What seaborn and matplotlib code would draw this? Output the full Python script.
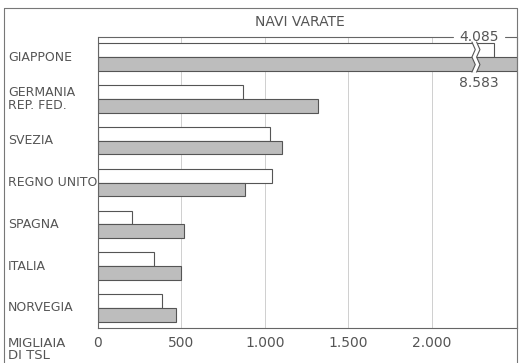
import numpy as np
import pandas as pd
import matplotlib
matplotlib.use("Agg")
import matplotlib.pyplot as plt
import seaborn as sns
from matplotlib.lines import Line2D
from matplotlib.patches import Polygon
from matplotlib.transforms import blended_transform_factory

sns.set_theme(style="white")
plt.rcParams['font.family'] = ['DejaVu Sans']

# data (migliaia di TSL)
paesi = ["GIAPPONE", "GERMANIA\nREP. FED.", "SVEZIA", "REGNO UNITO",
         "SPAGNA", "ITALIA", "NORVEGIA"]
serie_1 = [4085, 870, 1030, 1040, 205, 335, 385]   # barre bianche
serie_2 = [8583, 1320, 1105, 880, 515, 497, 467]   # barre grigie
tick_vals = [0, 500, 1000, 1500, 2000]
tick_labels = ["0", "500", "1.000", "1.500", "2.000"]

# asse spezzato oltre BREAK
BREAK = 2250
COMPRESS = 0.0654
XMAX = 2510


def to_display(v):
    if v <= BREAK:
        return v
    return BREAK + (v - BREAK) * COMPRESS


df = pd.DataFrame({
    "paese": paesi * 2,
    "serie": ["s1"] * len(paesi) + ["s2"] * len(paesi),
    "valore": serie_1 + serie_2,
})
df["plot"] = df["valore"].apply(to_display)

fig = plt.figure(figsize=(5.2, 3.63), dpi=100)
ax = fig.add_axes([98 / 520, 1 - 328 / 363, (517 - 98) / 520, (328 - 37) / 363])

sns.barplot(data=df, y="paese", x="plot", hue="serie", order=paesi,
            hue_order=["s1", "s2"], palette=["white", "#bdbdbd"],
            edgecolor="#555555", linewidth=0.8, width=0.66, gap=0,
            orient="h", legend=False, ax=ax)

ax.set_xlim(0, XMAX)
ax.set_ylim(6.48, -0.48)
ax.set_xticks(tick_vals)
ax.set_xticklabels(tick_labels, fontsize=10, color="#555555")
ax.tick_params(axis="x", length=0, pad=6)
ax.set_yticks([])
ax.set_xlabel("")
ax.set_ylabel("")
for v in tick_vals[1:]:
    ax.axvline(v, color="#cfcfcf", lw=0.7, zorder=0)
for s in ax.spines.values():
    s.set_color("#666666")
    s.set_linewidth(0.8)
ax.spines["top"].set_visible(False)

# top line with gap for the 4.085 label
ax.plot([0, 2125], [-0.48, -0.48], color="#666666", lw=0.8, clip_on=False)
ax.plot([2440, XMAX], [-0.48, -0.48], color="#666666", lw=0.8, clip_on=False)
ax.text(2282, -0.48, "4.085", ha="center", va="center", fontsize=10,
        color="#555555")
ax.text(2282, 0.62, "8.583", ha="center", va="center", fontsize=10,
        color="#555555")

# break mark
zx = [BREAK - 10, BREAK + 10, BREAK - 10, BREAK + 10, BREAK - 10]
zy = np.linspace(-0.36, 0.36, 5)
poly = [(x, y) for x, y in zip(zx, zy)] + [(x + 28, y) for x, y in zip(zx[::-1], zy[::-1])]
ax.add_patch(Polygon(poly, closed=True, facecolor="white", edgecolor="none", zorder=5))
ax.plot(zx, zy, color="#555555", lw=0.8, zorder=6)
ax.plot([x + 28 for x in zx], zy, color="#555555", lw=0.8, zorder=6)

# category labels
trans = blended_transform_factory(fig.transFigure, ax.transData)
for i, p in enumerate(paesi):
    ax.text(8 / 520, i, p, transform=trans, ha="left", va="center",
            fontsize=9, color="#555555", linespacing=1.0)

fig.text(8 / 520, 1 / 363, "MIGLIAIA\nDI TSL", ha="left", va="bottom",
         fontsize=9.5, color="#555555", linespacing=0.9)
fig.text(300 / 520, 1 - 22 / 363, "NAVI VARATE", ha="center", va="center",
         fontsize=10, color="#555555")

# outer frame
fig.add_artist(Line2D([4 / 520, 4 / 520], [0, 1 - 8 / 363], color="#777777", lw=0.8))
fig.add_artist(Line2D([4 / 520, 517 / 520], [1 - 8 / 363, 1 - 8 / 363], color="#777777", lw=0.8))
fig.add_artist(Line2D([517 / 520, 517 / 520], [0, 1 - 8 / 363], color="#777777", lw=0.8))

fig.savefig("out.png", dpi=100)
